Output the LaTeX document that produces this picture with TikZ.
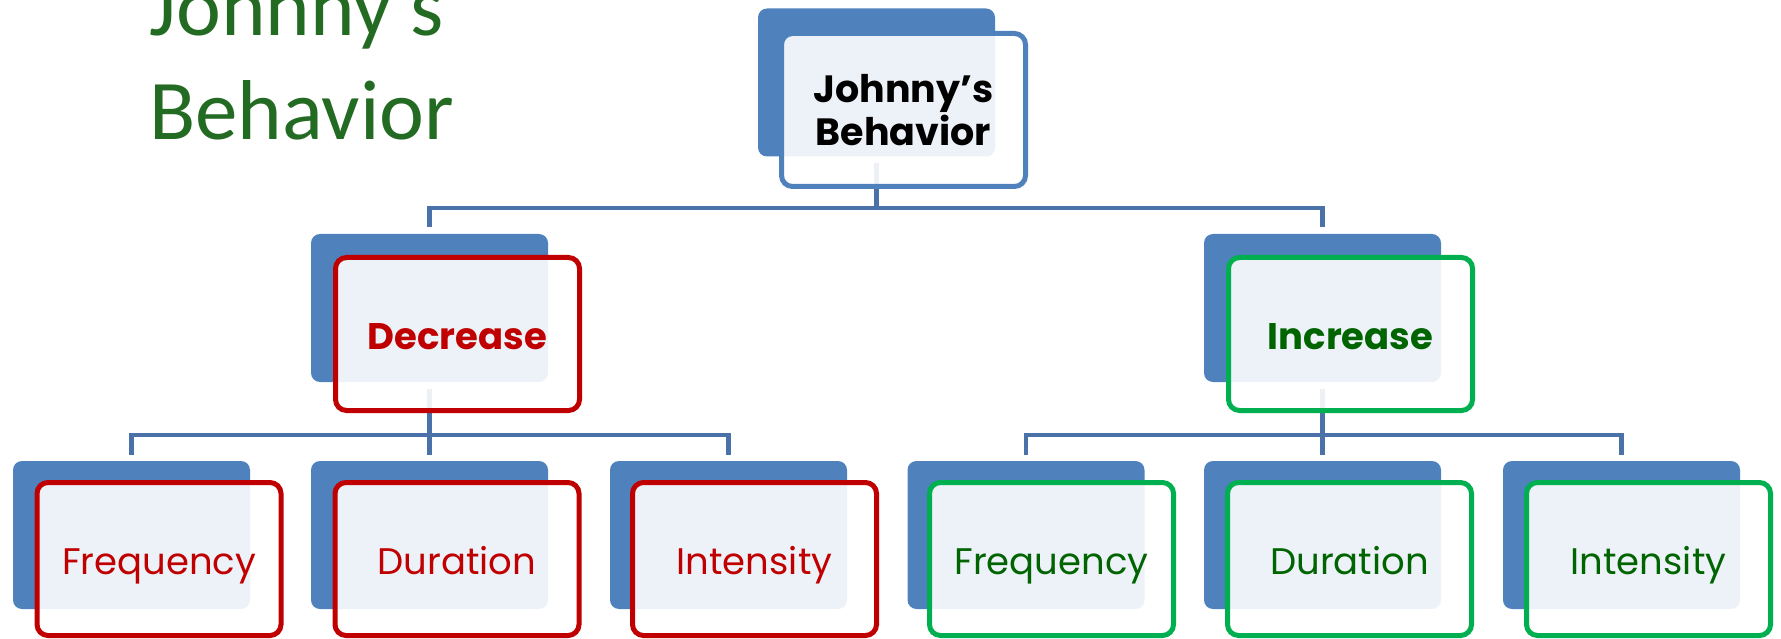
\documentclass[tikz,border=0pt]{standalone}
\usepackage{fontspec}
\setmainfont{Poppins}
\newfontfamily\headfont{Carlito}
\usepackage{xcolor}

\definecolor{shadeblue}{HTML}{4F81BD}
\definecolor{linkblue}{HTML}{4A72A8}
\definecolor{darkred}{HTML}{C00000}
\definecolor{brightgreen}{HTML}{00B050}
\definecolor{textgreen}{HTML}{006400}
\definecolor{titlegreen}{HTML}{236B22}

\begin{document}
\begin{tikzpicture}[x=1pt, y=-1pt,
    back/.style={rectangle, rounded corners=9pt, fill=shadeblue, minimum width=237pt, minimum height=148pt, inner sep=0pt, outer sep=6.5pt},
    front/.style={rectangle, rounded corners=11pt, draw=#1, line width=5pt, fill=white, fill opacity=0.9, text opacity=1, minimum width=244pt, minimum height=153pt, inner sep=0pt},
    label/.style={text height=30pt, text depth=0pt, font=\fontsize{37}{40}\selectfont},
    boldlabel/.style={text height=30pt, text depth=0pt, font=\bfseries\fontsize{37}{40}\selectfont},
    link/.style={draw=linkblue, line width=4.5pt},
    every node/.style={align=center}
]
\useasboundingbox (0,0) rectangle (1781,639);

% Title
\node[font=\headfont\fontsize{85}{104}\selectfont, text=titlegreen, align=left, anchor=base west, inner sep=0pt] (title) at (149,140) {Johnny's\\Behavior};

% Shadow boxes
\node[back] (top-b) at (876.5,82.5) {};
\node[back] (dec-b) at (429.5,308) {};
\node[back] (inc-b) at (1322.5,308) {};
\node[back] (dfreq-b) at (131.5,535) {};
\node[back] (ddur-b) at (429.5,535) {};
\node[back] (dint-b) at (728.5,535) {};
\node[back] (ifreq-b) at (1026,535) {};
\node[back] (idur-b) at (1322.5,535) {};
\node[back] (iint-b) at (1621.5,535) {};

% Connectors
\draw[link] (top-b.south) -- ++(0,45) -| (dec-b.north);
\draw[link] (top-b.south) -- ++(0,45) -| (inc-b.north);
\draw[link] (dec-b.south) -- ++(0,46.5) -| (dfreq-b.north);
\draw[link] (dec-b.south) -- (ddur-b.north);
\draw[link] (dec-b.south) -- ++(0,46.5) -| (dint-b.north);
\draw[link] (inc-b.south) -- ++(0,46.5) -| (ifreq-b.north);
\draw[link] (inc-b.south) -- (idur-b.north);
\draw[link] (inc-b.south) -- ++(0,46.5) -| (iint-b.north);

% Text boxes
\node[front=shadeblue, font=\bfseries\fontsize{38}{43}\selectfont] (top) at (903.5,110) {Johnny's\\Behavior};
\node[front=darkred, boldlabel, text=darkred] (dec) at (457.5,334) {Decrease};
\node[front=brightgreen, boldlabel, text=textgreen] (inc) at (1350.5,334) {Increase};
\node[front=darkred, label, text=darkred] (dfreq) at (159,559) {Frequency};
\node[front=darkred, label, text=darkred] (ddur) at (457,559) {Duration};
\node[front=darkred, label, text=darkred] (dint) at (754.5,559) {Intensity};
\node[front=brightgreen, label, text=textgreen] (ifreq) at (1051.5,559) {Frequency};
\node[front=brightgreen, label, text=textgreen] (idur) at (1349.5,559) {Duration};
\node[front=brightgreen, label, text=textgreen] (iint) at (1648.5,559) {Intensity};

\end{tikzpicture}
\end{document}
